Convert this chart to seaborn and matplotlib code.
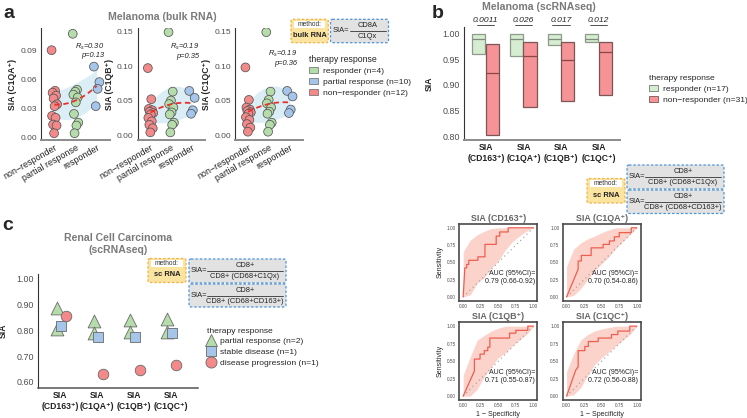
import numpy as np
import pandas as pd
import matplotlib
matplotlib.use("Agg")
import matplotlib.pyplot as plt
from matplotlib.patches import Patch, FancyBboxPatch, Rectangle
from matplotlib.lines import Line2D
import seaborn as sns

# ---------------- data ----------------
# panel a: melanoma bulk RNA (x order: non-responder, partial response, responder)
a_groups = ["non−responder", "partial response", "responder"]
c1qa_non = [0.090, 0.048, 0.046, 0.043, 0.040, 0.034, 0.032, 0.022, 0.020, 0.013, 0.012, 0.004]
c1qa_part = [0.107, 0.049, 0.047, 0.044, 0.041, 0.036, 0.024, 0.015, 0.012, 0.004]
c1qa_resp = [0.073, 0.057, 0.050, 0.032]
c1qb_non = [0.097, 0.052, 0.038, 0.036, 0.034, 0.032, 0.030, 0.025, 0.020, 0.015, 0.010, 0.004]
c1qb_part = [0.149, 0.063, 0.050, 0.045, 0.040, 0.033, 0.030, 0.018, 0.015, 0.004]
c1qb_resp = [0.064, 0.054, 0.036, 0.031]
c1qc_non = [0.098, 0.051, 0.040, 0.037, 0.035, 0.033, 0.031, 0.026, 0.022, 0.016, 0.011, 0.005]
c1qc_part = [0.149, 0.063, 0.051, 0.046, 0.040, 0.034, 0.031, 0.018, 0.015, 0.005]
c1qc_resp = [0.064, 0.056, 0.037, 0.032]
a_ylabels = ["SIA (C1QA⁺)", "SIA (C1QB⁺)", "SIA (C1QC⁺)"]
a_rs = ["0.30", "0.19", "0.19"]
a_p = ["0.13", "0.35", "0.36"]
a_legend = ["responder (n=4)", "partial response (n=10)", "non−responder (n=12)"]

# panel b: melanoma scRNAseq crossbars
sia_labels = ["SIA\n(CD163⁺)", "SIA\n(C1QA⁺)", "SIA\n(C1QB⁺)", "SIA\n(C1QC⁺)"]
b_resp_low = [0.960, 0.957, 0.977, 0.983]
b_resp_mid = [0.989, 0.989, 0.990, 0.990]
b_resp_high = [1.000, 1.000, 1.000, 1.000]
b_non_low = [0.803, 0.858, 0.868, 0.881]
b_non_mid = [0.923, 0.957, 0.948, 0.964]
b_non_high = [0.979, 0.984, 0.984, 0.984]
b_pvals = ["0.0011", "0.026", "0.017", "0.012"]
b_legend = ["responder (n=17)", "non−responder (n=31)"]

# ROC curves
roc_titles = ["SIA (CD163⁺)", "SIA (C1QA⁺)", "SIA (C1QB⁺)", "SIA (C1QC⁺)"]
roc_auc = ["0.79 (0.66-0.92)", "0.70 (0.54-0.86)", "0.71 (0.55-0.87)", "0.72 (0.56-0.88)"]
fpr_cd163 = [0, 0.024, 0.024, 0.05, 0.05, 0.08, 0.08, 0.21, 0.21, 0.31, 0.31, 0.47, 0.47, 0.52, 0.52, 0.64, 0.64, 1.0]
tpr_cd163 = [0, 0.42, 0.42, 0.42, 0.47, 0.47, 0.53, 0.53, 0.58, 0.58, 0.76, 0.76, 0.88, 0.88, 0.94, 0.94, 1.0, 1.0]
fpr_c1qa = [0, 0.14, 0.165, 0.165, 0.21, 0.21, 0.35, 0.35, 0.52, 0.52, 0.61, 0.61, 0.68, 0.68, 0.75, 0.75, 0.92, 0.92, 1.0]
tpr_c1qa = [0, 0.34, 0.40, 0.52, 0.52, 0.60, 0.60, 0.71, 0.71, 0.76, 0.76, 0.81, 0.81, 0.87, 0.87, 0.93, 0.93, 1.0, 1.0]
fpr_c1qb = [0, 0.16, 0.16, 0.24, 0.24, 0.30, 0.30, 0.35, 0.35, 0.38, 0.38, 0.66, 0.66, 0.75, 0.75, 0.92, 0.92, 1.0]
tpr_c1qb = [0, 0.36, 0.53, 0.53, 0.60, 0.60, 0.65, 0.65, 0.70, 0.70, 0.83, 0.83, 0.90, 0.90, 0.94, 0.94, 1.0, 1.0]
fpr_c1qc = [0, 0.13, 0.165, 0.165, 0.26, 0.26, 0.31, 0.31, 0.45, 0.45, 0.64, 0.64, 0.73, 0.73, 0.90, 0.90, 1.0]
tpr_c1qc = [0, 0.37, 0.42, 0.65, 0.65, 0.71, 0.71, 0.78, 0.78, 0.83, 0.83, 0.88, 0.88, 0.93, 0.93, 1.0, 1.0]
band_fpr = [0, 0.1, 0.2, 0.3, 0.4, 0.5, 0.6, 0.7, 0.8, 0.9, 1.0]
band_lo_cd163 = [0, 0.03, 0.20, 0.28, 0.42, 0.52, 0.68, 0.80, 0.88, 0.95, 1.0]
band_hi_cd163 = [0.65, 0.82, 0.90, 0.95, 0.99, 1, 1, 1, 1, 1, 1]
band_lo_c1qa = [0, 0.02, 0.12, 0.25, 0.38, 0.48, 0.58, 0.70, 0.80, 0.90, 1.0]
band_hi_c1qa = [0.44, 0.69, 0.78, 0.84, 0.88, 0.93, 0.97, 1, 1, 1, 1]
band_lo_c1qb = [0, 0.0, 0.10, 0.28, 0.42, 0.55, 0.62, 0.72, 0.80, 0.88, 1.0]
band_hi_c1qb = [0.30, 0.56, 0.80, 0.87, 0.93, 0.97, 1, 1, 1, 1, 1]
band_lo_c1qc = [0, 0.02, 0.12, 0.30, 0.45, 0.55, 0.63, 0.72, 0.80, 0.88, 1.0]
band_hi_c1qc = [0.35, 0.60, 0.80, 0.88, 0.93, 0.96, 0.98, 1, 1, 1, 1]

# panel c: renal cell carcinoma scRNAseq
c_partial_hi = [0.885, 0.836, 0.838, 0.842]
c_partial_lo = [0.803, 0.790, 0.793, 0.795]
c_stable = [0.816, 0.773, 0.773, 0.789]
c_progression = [0.855, 0.632, 0.645, 0.667]
c_legend = ["partial response (n=2)", "stable disease (n=1)", "disease progression (n=1)"]

# ---------------- style ----------------
RED, GREEN, BLUE = "#F4898A", "#B5DDAB", "#A5C5EA"
GREEN_BOX, RED_BOX = "#D5EDD0", "#F59396"
TICK_C = "#4d4d4d"

sns.set_theme(style="white")
plt.rcParams["font.family"] = ["Liberation Sans", "DejaVu Sans"]
plt.rcParams["mathtext.fontset"] = "custom"
plt.rcParams["mathtext.it"] = "Liberation Sans:italic"
plt.rcParams["mathtext.rm"] = "Liberation Sans"

W, H = 747, 418
fig = plt.figure(figsize=(7.47, 4.18), dpi=100)


def px_axes(x0, y0, x1, y1):
    return fig.add_axes([x0 / W, 1 - y1 / H, (x1 - x0) / W, (y1 - y0) / H])


def classic(ax, bottom_c="#8c8c8c", bottom_lw=1.4):
    for s in ["top", "right"]:
        ax.spines[s].set_visible(False)
    ax.spines["left"].set_color("#333333")
    ax.spines["left"].set_linewidth(0.8)
    ax.spines["bottom"].set_color(bottom_c)
    ax.spines["bottom"].set_linewidth(bottom_lw)
    ax.tick_params(axis="y", length=2, width=0.6, color="#333333", labelsize=6, labelcolor=TICK_C, pad=1)
    ax.tick_params(axis="x", length=0, pad=2)


def jit(n):
    return (((np.arange(n) * 7) % n) / max(n - 1, 1) - 0.5) * 0.26


# ---------------- panel a ----------------
a_sets = [
    (c1qa_non, c1qa_part, c1qa_resp, (41, 28, 110, 140), (-0.003, 0.113), [0, 0.03, 0.06, 0.09], 0.88),
    (c1qb_non, c1qb_part, c1qb_resp, (137.5, 28, 205, 140), (-0.007, 0.155), [0, 0.05, 0.10, 0.15], 0.875),
    (c1qc_non, c1qc_part, c1qc_resp, (235, 28, 303, 140), (-0.007, 0.155), [0, 0.05, 0.10, 0.15], 0.81),
]
pt_colors = [RED, GREEN, BLUE]
for i, (gn, gp, gr, rect, ylim, yt, ty) in enumerate(a_sets):
    ax = px_axes(*rect)
    rows = []
    for k, g in enumerate([gn, gp, gr]):
        for v, o in zip(g, jit(len(g))):
            rows.append({"x": k + o, "SIA": v, "grp": a_groups[k]})
    df = pd.DataFrame(rows)
    # smooth fit with confidence ribbon through group means
    xs = np.arange(3)
    means = np.array([np.mean(g) for g in [gn, gp, gr]])
    half = np.array([1.96 * np.std(g, ddof=1) / np.sqrt(len(g)) for g in [gn, gp, gr]])
    grid = np.linspace(0, 2, 80)
    m = np.polyval(np.polyfit(xs, means, 2), grid)
    h = np.polyval(np.polyfit(xs, half, 2), grid)
    ax.fill_between(grid, m - h, m + h, color="#D3EAF3", alpha=0.8, lw=0, zorder=1)
    sns.scatterplot(data=df, x="x", y="SIA", hue="grp", palette=dict(zip(a_groups, pt_colors)),
                    s=40, edgecolor="#555555", linewidth=0.55, legend=False, ax=ax, zorder=3)
    ax.plot(grid, m, color="#E8302C", ls=(0, (3, 2)), lw=1.3, zorder=4)
    ax.set_xlim(-0.63, 2.63)
    ax.set_ylim(*ylim)
    ax.set_yticks(yt)
    ax.set_yticklabels([f"{v:.2f}" for v in yt])
    ax.set_xticks([0, 1, 2])
    ax.set_xticklabels(a_groups, rotation=30, ha="right", rotation_mode="anchor", fontsize=6.4, color="#222222")
    ax.set_xlabel("")
    ax.set_ylabel(a_ylabels[i], fontsize=6.2, weight="bold", labelpad=2)
    classic(ax)
    ax.text(0.91, ty, "$R_s$=" + a_rs[i] + "\n" + "p=" + a_p[i], transform=ax.transAxes,
            ha="right", va="top", multialignment="right", fontsize=5.4, style="italic",
            color="#222222", linespacing=1.1)

fig.legend(handles=[Patch(fc=GREEN, ec="#666666", lw=0.5), Patch(fc=BLUE, ec="#666666", lw=0.5),
                    Patch(fc=RED, ec="#666666", lw=0.5)],
           labels=a_legend, title="therapy response", loc="upper left",
           bbox_to_anchor=(305 / W, 1 - 51 / H), frameon=False, fontsize=6.1, title_fontsize=6.3,
           handlelength=1.0, handleheight=0.75, handletextpad=0.6, labelspacing=0.35, borderpad=0,
           alignment="left")

# ---------------- panel b ----------------
ax = px_axes(464, 27, 620.5, 140.4)
xb = np.arange(4)
bw = 0.35
gx, rx = xb - 0.19, xb + 0.17
ax.bar(gx, np.array(b_resp_high) - np.array(b_resp_low), bottom=b_resp_low, width=bw,
       color=GREEN_BOX, edgecolor="#8f9a8c", lw=0.9, zorder=2)
ax.hlines(b_resp_mid, gx - bw / 2, gx + bw / 2, color="#7f8c7c", lw=0.9, zorder=3)
ax.bar(rx, np.array(b_non_high) - np.array(b_non_low), bottom=b_non_low, width=bw,
       color=RED_BOX, edgecolor="#7c5656", lw=0.9, zorder=2)
ax.hlines(b_non_mid, rx - bw / 2, rx + bw / 2, color="#8b4747", lw=0.9, zorder=3)
for k, p in enumerate(b_pvals):
    ax.text(xb[k] - 0.01, 1.0265, p, ha="center", va="center", fontsize=6.1, style="italic",
            color="#222222", clip_on=False)
    ax.plot([gx[k] - 0.05, rx[k] + 0.05], [1.0165, 1.0165], color="#333333", lw=0.6, clip_on=False)
ax.set_xlim(-0.58, 3.57)
ax.set_ylim(0.792, 1.013)
ax.set_yticks([0.80, 0.85, 0.90, 0.95, 1.00])
ax.set_yticklabels(["0.80", "0.85", "0.90", "0.95", "1.00"])
ax.set_xticks(xb)
ax.set_xticklabels(sia_labels, fontsize=6.2, weight="bold", color="#222222", linespacing=1.3)
ax.set_ylabel("SIA", fontsize=6.2, weight="bold", labelpad=6)
classic(ax)
ax.tick_params(axis="y", labelsize=6.4)

fig.legend(handles=[Patch(fc=GREEN_BOX, ec="#777777", lw=0.6), Patch(fc=RED_BOX, ec="#7c5656", lw=0.6)],
           labels=b_legend, title="therapy response", loc="upper left",
           bbox_to_anchor=(645 / W, 1 - 70.5 / H), frameon=False, fontsize=6.1, title_fontsize=6.1,
           handlelength=1.0, handleheight=0.75, handletextpad=0.6, labelspacing=0.35, borderpad=0,
           alignment="left")

# ---------------- ROC panels ----------------
roc_sets = [
    (fpr_cd163, tpr_cd163, band_lo_cd163, band_hi_cd163, (459.3, 224, 537.3, 300.7)),
    (fpr_c1qa, tpr_c1qa, band_lo_c1qa, band_hi_c1qa, (562.7, 224, 640.7, 300.7)),
    (fpr_c1qb, tpr_c1qb, band_lo_c1qb, band_hi_c1qb, (459.3, 322.3, 537.3, 400)),
    (fpr_c1qc, tpr_c1qc, band_lo_c1qc, band_hi_c1qc, (562.7, 322.3, 640.7, 400)),
]
rt = [0, 0.25, 0.5, 0.75, 1.0]
for i, (fp, tp, lo, hi, rect) in enumerate(roc_sets):
    ax = px_axes(*rect)
    ax.fill_between(band_fpr, lo, hi, color="#FBD3CB", lw=0, zorder=1)
    ax.plot([0, 1], [0, 1], color="#9a9a9a", ls=(0, (1, 3)), lw=0.8, zorder=2)
    ax.plot(fp, tp, color="#EE5E50", lw=0.9, zorder=3)
    ax.set_xlim(-0.055, 1.055)
    ax.set_ylim(-0.055, 1.055)
    ax.set_xticks(rt)
    ax.set_yticks(rt)
    ax.set_xticklabels([f"{v:.2f}" for v in rt])
    ax.set_yticklabels([f"{v:.2f}" for v in rt])
    ax.tick_params(labelsize=3.4, labelcolor=TICK_C, length=1.5, width=0.4, color="#555555", pad=1)
    for s in ax.spines.values():
        s.set_visible(True)
        s.set_color("#4a4a4a")
        s.set_linewidth(1.2)
    ax.set_title(roc_titles[i], fontsize=6.4, color="#666666", weight="bold", pad=2.5)
    ax.text(0.97, 0.3, "AUC (95%CI)=\n" + roc_auc[i], transform=ax.transAxes, ha="right", va="center",
            multialignment="right", fontsize=5.0, color="#222222", linespacing=1.25)
    if i % 2 == 0:
        ax.set_ylabel("Sensitivity", fontsize=5.0, labelpad=2)
    if i >= 2:
        ax.set_xlabel("1 − Specificity", fontsize=5.0, labelpad=2)

# ---------------- panel c ----------------
ax = px_axes(38, 274, 198, 388)
xc = np.arange(4)
c_groups = ["partial", "partial", "stable", "progression"]
c_offsets = {"partial": -0.10, "stable": 0.025, "progression": 0.155}
rows = []
for vals, g in zip([c_partial_hi, c_partial_lo, c_stable, c_progression], c_groups):
    for k, v in enumerate(vals):
        rows.append({"x": xc[k] + c_offsets[g], "SIA": v, "grp": g})
dfc = pd.DataFrame(rows)
c_pal = {"partial": GREEN, "stable": BLUE, "progression": RED}
c_mark = {"partial": "^", "stable": "s", "progression": "o"}
for g in ["partial", "stable", "progression"]:
    sub = dfc[dfc["grp"] == g]
    sns.scatterplot(data=sub, x="x", y="SIA", color=c_pal[g], marker=c_mark[g],
                    s={"partial": 85, "stable": 52, "progression": 58}[g],
                    edgecolor="#6a6a6a", linewidth=0.6, legend=False, ax=ax, zorder=3)
ax.set_xlim(-0.61, 3.74)
ax.set_ylim(0.576, 1.018)
yt = [0.60, 0.70, 0.80, 0.90, 1.00]
ax.set_yticks(yt)
ax.set_yticklabels([f"{v:.2f}" for v in yt])
ax.set_xticks(xc)
ax.set_xticklabels(sia_labels, fontsize=6.2, weight="bold", color="#222222", linespacing=1.3)
ax.set_xlabel("")
ax.set_ylabel("SIA", fontsize=6.2, weight="bold", labelpad=6)
classic(ax, bottom_c="#555555", bottom_lw=1.1)
ax.tick_params(axis="y", labelsize=6.4)

fig.legend(handles=[Line2D([], [], ls="", marker="^", ms=9, mfc=GREEN, mec="#6a6a6a", mew=0.6),
                    Line2D([], [], ls="", marker="s", ms=7.5, mfc=BLUE, mec="#6a6a6a", mew=0.6),
                    Line2D([], [], ls="", marker="o", ms=8, mfc=RED, mec="#6a6a6a", mew=0.6)],
           labels=c_legend, title="therapy response", loc="upper left",
           bbox_to_anchor=(203 / W, 1 - 323.5 / H), frameon=False, fontsize=6.1, title_fontsize=6.1,
           handlelength=1.0, handletextpad=0.5, labelspacing=0.32, borderpad=0, alignment="left")

# ---------------- overlay: labels, titles, method boxes ----------------
ov = fig.add_axes([0, 0, 1, 1], zorder=10)
ov.set_xlim(0, W)
ov.set_ylim(H, 0)
ov.axis("off")
ov.patch.set_alpha(0)

ov.text(3, 17.5, "a", fontsize=14, weight="bold", va="baseline")
ov.text(432, 17.5, "b", fontsize=14, weight="bold", va="baseline")
ov.text(2, 230.5, "c", fontsize=14, weight="bold", va="baseline")
ov.text(162, 17.5, "Melanoma (bulk RNA)", fontsize=7.6, weight="bold", color="#7a7a7a", ha="center", va="center")
ov.text(539, 7, "Melanoma (scRNAseq)", fontsize=7.6, weight="bold", color="#7a7a7a", ha="center", va="center")
ov.text(118.5, 244, "Renal Cell Carcinoma\n(scRNAseq)", fontsize=7.6, weight="bold", color="#7a7a7a",
        ha="center", va="center", linespacing=1.35)


def method_box(x0, y0, x1, y1, label):
    ov.add_patch(FancyBboxPatch((x0, y0), x1 - x0, y1 - y0, boxstyle="round,pad=0,rounding_size=2",
                                fc="#FBE3A0", ec="#F0B347", lw=0.9, ls=(0, (2, 1.5))))
    ov.add_patch(Rectangle((x0 + 3, y0 + 1.2), x1 - x0 - 6, 7.3, fc="white", ec="none"))
    ov.text((x0 + x1) / 2, y0 + 5, "method:", ha="center", va="center", fontsize=4.8, color="#333333")
    ov.text((x0 + x1) / 2, (y0 + 9 + y1) / 2, label, ha="center", va="center", fontsize=5.4,
            weight="bold", color="#222222")


def formula_box(x0, y0, x1, y1, num, den, lx0):
    ov.add_patch(FancyBboxPatch((x0, y0), x1 - x0, y1 - y0, boxstyle="round,pad=0,rounding_size=2",
                                fc="#E2E2E2", ec="#4F94D8", lw=0.9, ls=(0, (2, 1.5))))
    ym = (y0 + y1) / 2
    ov.text(x0 + 2, ym, "SIA=", ha="left", va="center", fontsize=5.4, color="#222222")
    lx1 = x1 - 3
    ov.plot([lx0, lx1], [ym, ym], color="#333333", lw=0.6)
    ov.text((lx0 + lx1) / 2, ym - 5.3, num, ha="center", va="center", fontsize=5.4, color="#222222")
    ov.text((lx0 + lx1) / 2, ym + 5.6, den, ha="center", va="center", fontsize=5.4, color="#222222")


method_box(291, 19.3, 328.3, 42.7, "bulk RNA")
formula_box(330.5, 19.3, 388.5, 42.7, "CD8A", "C1Qx", 350)

method_box(587, 178.5, 625, 203, "sc RNA")
formula_box(627, 165, 724, 189, "CD8+", "CD8+ (CD68+C1Qx)", 645)
formula_box(627, 190, 724, 213.5, "CD8+", "CD8+ (CD68+CD163+)", 645)

method_box(148, 258.5, 186, 282.5, "sc RNA")
formula_box(189, 259, 286, 283, "CD8+", "CD8+ (CD68+C1Qx)", 207)
formula_box(189, 284, 286, 307, "CD8+", "CD8+ (CD68+CD163+)", 207)

fig.savefig("out.png", dpi=100)
